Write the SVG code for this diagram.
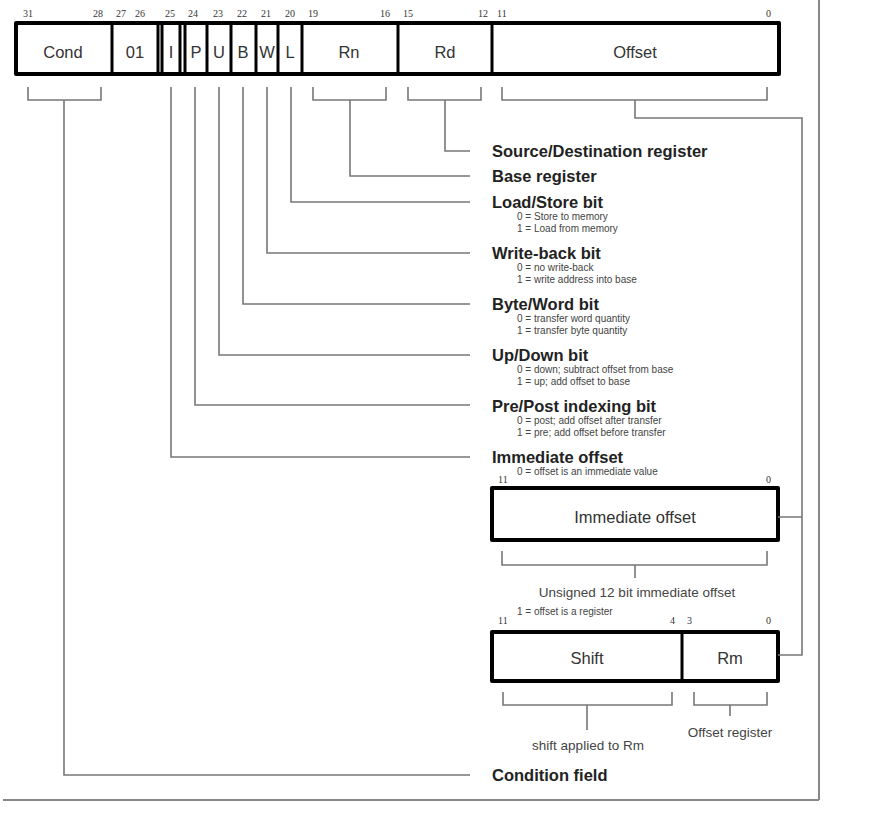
<svg xmlns="http://www.w3.org/2000/svg" width="870" height="815" viewBox="0 0 870 815">
<style>
.num{font-family:"Liberation Serif",serif;font-size:10px;fill:#333}
.fld{font-family:"Liberation Sans",Arial,sans-serif;font-size:16.5px;fill:#333;text-anchor:middle}
.box{fill:#fff;stroke:#000;stroke-width:4;stroke-linejoin:round}
.div{stroke:#000;stroke-width:3}
.con{fill:none;stroke:#777;stroke-width:1.6}
.lbl{font-family:"Liberation Sans",Arial,sans-serif;font-size:16.5px;font-weight:bold;fill:#222}
.sub{font-family:"Liberation Sans",Arial,sans-serif;font-size:10px;fill:#444}
.cap{font-family:"Liberation Sans",Arial,sans-serif;font-size:13.5px;fill:#444;text-anchor:middle}
</style>
<rect x="0" y="0" width="870" height="815" fill="#fff"/>
<g id="frame">
<line x1="819" y1="0" x2="819" y2="800" stroke="#888" stroke-width="2"/>
<line x1="3" y1="800" x2="819" y2="800" stroke="#888" stroke-width="2"/>
</g>
<g id="instruction-word">
<rect class="box" x="16" y="23" width="763" height="51"/>
<line class="div" x1="112" y1="23" x2="112" y2="74"/>
<line class="div" x1="158" y1="23" x2="158" y2="74"/>
<line class="div" x1="162" y1="23" x2="162" y2="74"/>
<line class="div" x1="180" y1="23" x2="180" y2="74"/>
<line class="div" x1="185" y1="23" x2="185" y2="74"/>
<line class="div" x1="207" y1="23" x2="207" y2="74"/>
<line class="div" x1="231" y1="23" x2="231" y2="74"/>
<line class="div" x1="256" y1="23" x2="256" y2="74"/>
<line class="div" x1="278" y1="23" x2="278" y2="74"/>
<line class="div" x1="302" y1="23" x2="302" y2="74"/>
<line class="div" x1="398" y1="23" x2="398" y2="74"/>
<line class="div" x1="492" y1="23" x2="492" y2="74"/>
<text class="fld" x="63" y="58">Cond</text>
<text class="fld" x="135" y="58">01</text>
<text class="fld" x="171" y="58">I</text>
<text class="fld" x="196" y="58">P</text>
<text class="fld" x="219" y="58">U</text>
<text class="fld" x="243" y="58">B</text>
<text class="fld" x="267" y="58">W</text>
<text class="fld" x="290" y="58">L</text>
<text class="fld" x="349" y="58">Rn</text>
<text class="fld" x="445" y="58">Rd</text>
<text class="fld" x="635" y="58">Offset</text>
<text class="num" x="23" y="17">31</text>
<text class="num" x="93" y="17">28</text>
<text class="num" x="116" y="17">27</text>
<text class="num" x="135" y="17">26</text>
<text class="num" x="165" y="17">25</text>
<text class="num" x="188" y="17">24</text>
<text class="num" x="213" y="17">23</text>
<text class="num" x="237" y="17">22</text>
<text class="num" x="261" y="17">21</text>
<text class="num" x="285" y="17">20</text>
<text class="num" x="308" y="17">19</text>
<text class="num" x="380" y="17">16</text>
<text class="num" x="403" y="17">15</text>
<text class="num" x="478" y="17">12</text>
<text class="num" x="497" y="17">11</text>
<text class="num" x="766" y="17">0</text>
</g>
<g id="immediate-box">
<rect class="box" x="492" y="488" width="286" height="52"/>
<text class="fld" x="635" y="523">Immediate offset</text>
<text class="num" x="498" y="483">11</text>
<text class="num" x="766" y="483">0</text>
</g>
<g id="register-box">
<rect class="box" x="492" y="632" width="286" height="49"/>
<line class="div" x1="682" y1="632" x2="682" y2="681"/>
<text class="fld" x="587" y="664">Shift</text>
<text class="fld" x="730" y="664">Rm</text>
<text class="num" x="498" y="624">11</text>
<text class="num" x="670" y="624">4</text>
<text class="num" x="687" y="624">3</text>
<text class="num" x="766" y="624">0</text>
</g>
<g id="connectors">
<path class="con" d="M28 87V100H101V87M64 100V775H470"/>
<path class="con" d="M313 87V100H386V87M350 100V176H470"/>
<path class="con" d="M408 87V100H481V87M445 100V151H470"/>
<path class="con" d="M291 87V202H470"/>
<path class="con" d="M267 87V253H470"/>
<path class="con" d="M243 87V304H470"/>
<path class="con" d="M219 87V355H470"/>
<path class="con" d="M195 87V405H470"/>
<path class="con" d="M171 87V457H470"/>
<path class="con" d="M502 87V100H767V87M635 100V118H802V655H778M802 517H778"/>
<path class="con" d="M502 551V565H767V551M635 565V578"/>
<path class="con" d="M503 692V705H672V692M587 705V730"/>
<path class="con" d="M694 692V705H767V692M730 705V716"/>
</g>
<g id="labels">
<text class="lbl" x="492" y="157">Source/Destination register</text>
<text class="lbl" x="492" y="182">Base register</text>
<text class="lbl" x="492" y="208">Load/Store bit</text>
<text class="sub" x="517" y="220">0 = Store to memory</text>
<text class="sub" x="517" y="232">1 = Load from memory</text>
<text class="lbl" x="492" y="259">Write-back bit</text>
<text class="sub" x="517" y="271">0 = no write-back</text>
<text class="sub" x="517" y="283">1 = write address into base</text>
<text class="lbl" x="492" y="310">Byte/Word bit</text>
<text class="sub" x="517" y="322">0 = transfer word quantity</text>
<text class="sub" x="517" y="334">1 = transfer byte quantity</text>
<text class="lbl" x="492" y="361">Up/Down bit</text>
<text class="sub" x="517" y="373">0 = down; subtract offset from base</text>
<text class="sub" x="517" y="385">1 = up; add offset to base</text>
<text class="lbl" x="492" y="412">Pre/Post indexing bit</text>
<text class="sub" x="517" y="424">0 = post; add offset after transfer</text>
<text class="sub" x="517" y="436">1 = pre; add offset before transfer</text>
<text class="lbl" x="492" y="463">Immediate offset</text>
<text class="sub" x="517" y="475">0 = offset is an immediate value</text>
<text class="cap" x="637" y="597">Unsigned 12 bit immediate offset</text>
<text class="sub" x="517" y="615">1 = offset is a register</text>
<text class="cap" x="730" y="737">Offset register</text>
<text class="cap" x="588" y="750">shift applied to Rm</text>
<text class="lbl" x="492" y="781">Condition field</text>
</g>
</svg>
